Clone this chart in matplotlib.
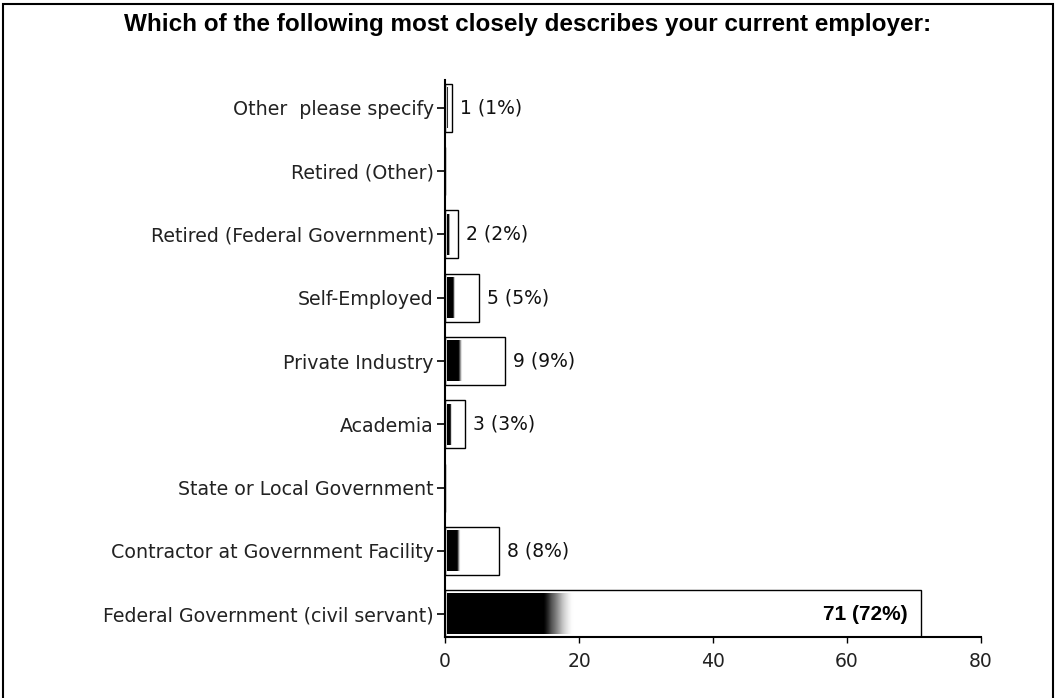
import numpy as np
import matplotlib.pyplot as plt
from matplotlib.patches import Rectangle

# data, bottom to top
categories = ["Federal Government (civil servant)",
              "Contractor at Government Facility",
              "State or Local Government",
              "Academia",
              "Private Industry",
              "Self-Employed",
              "Retired (Federal Government)",
              "Retired (Other)",
              "Other  please specify"]
counts = [71, 8, 0, 3, 9, 5, 2, 0, 1]
percents = [72, 8, 0, 3, 9, 5, 2, 0, 1]
xticks = [0, 20, 40, 60, 80]

plt.rcParams['font.family'] = ['DejaVu Sans']

fig = plt.figure(figsize=(10.56, 6.98), dpi=100)
ax = fig.add_axes([0.4214, 0.0874, 0.929 - 0.4214, 0.8854 - 0.0874])

# outer frame
fig.patches.append(Rectangle((0.003, -0.01), 0.994, 1.004, transform=fig.transFigure,
                             fill=False, edgecolor='black', linewidth=1.5))

fig.text(0.5, 0.965, "Which of the following most closely describes your current employer:",
         ha='center', va='center', fontsize=17.5, fontweight='bold',
         family=['Liberation Sans', 'DejaVu Sans'])

h = 0.76
y = np.arange(len(categories))
ax.barh(y, counts, height=h, left=0, color='white', edgecolor='black', linewidth=1.0, zorder=2)

# dark-left gradient fill inside each bar
cols = 300
for yi, v in zip(y, counts):
    if v == 0:
        continue
    f = np.linspace(0, 1, cols)
    g = np.clip((0.265 - f) / (0.265 - 0.205), 0, 1)
    img = np.tile(g, (2, 1))
    ax.imshow(img, cmap='Greys', vmin=0, vmax=1, aspect='auto',
              extent=(0.3, v - 0.3, yi - h / 2 + 0.06, yi + h / 2 - 0.06),
              interpolation='bilinear', zorder=3)

for yi, v, p in zip(y, counts, percents):
    if v == 0:
        continue
    if v > 40:
        ax.text(v - 2.0, yi, f"{v} ({p}%)", ha='right', va='center',
                fontsize=15, fontweight='bold', zorder=4,
                family=['Liberation Sans', 'DejaVu Sans'])
    else:
        ax.text(v + 1.2, yi, f"{v} ({p}%)", ha='left', va='center',
                fontsize=13.5, color='#111111', zorder=4)

ax.set_xlim(0, 80)
ax.set_ylim(-0.36, 8.44)
ax.set_xticks(xticks)
ax.set_yticks(y)
ax.set_yticklabels(categories)
ax.tick_params(axis='y', length=6, width=1.2, labelsize=13.7, labelcolor='#222222', pad=2)
ax.tick_params(axis='x', length=4, width=1.0, labelsize=13.5, labelcolor='#222222', pad=7)
for s in ['top', 'right']:
    ax.spines[s].set_visible(False)
ax.spines['left'].set_linewidth(1.5)
ax.spines['bottom'].set_linewidth(1.5)

fig.savefig('out.png', dpi=100)
